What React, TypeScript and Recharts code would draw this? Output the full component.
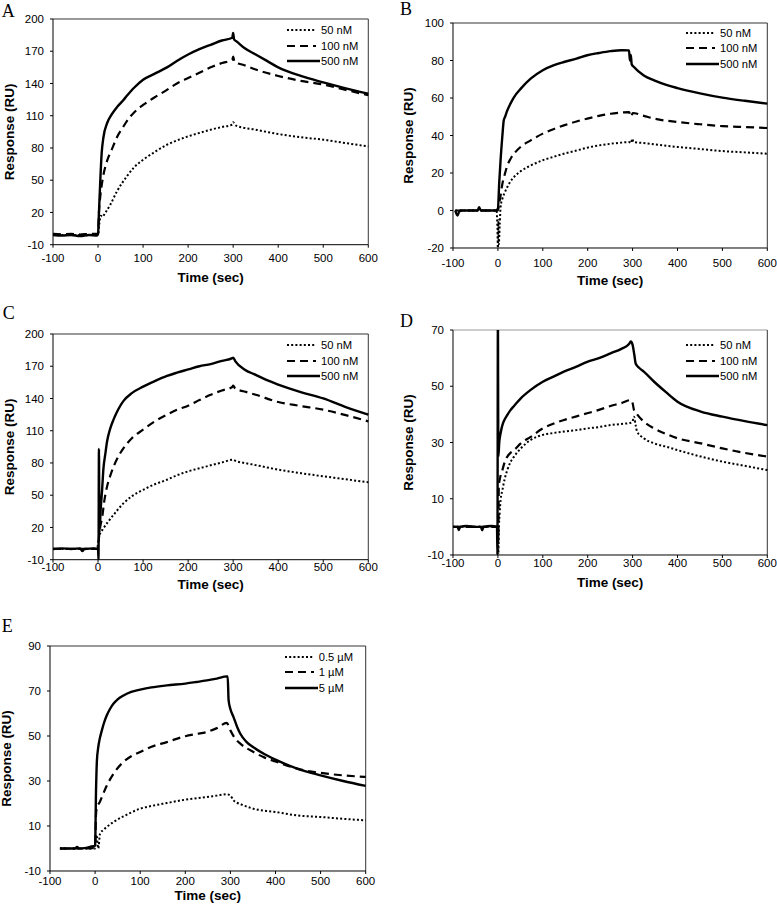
import React from "react";
import { LineChart, Line, XAxis, YAxis, ReferenceLine } from "recharts";

// ---- Panel A (nM) ----
const aT500 = [-100, -80, -60, -40, -20, -2, 0, 2, 5, 8, 12, 20, 30, 42, 55, 65, 80, 100, 125, 153, 175, 200, 225, 250, 275, 298, 300, 302, 308, 325, 350, 375, 400, 450, 500, 550, 600];
const aR500 = [-1, -1.5, -1, -2, -1, -1.5, 0, 20, 50, 75, 90, 103, 111, 118, 124, 129, 136, 143.5, 149, 155, 161, 167, 172, 176, 180, 182.5, 187, 181, 179, 173, 167, 161, 155, 147, 141, 135.5, 130.5];
const aT100 = [-100, -80, -60, -40, -20, -2, 0, 2, 5, 8, 12, 20, 30, 42, 55, 64, 80, 100, 125, 153, 175, 200, 225, 250, 275, 298, 300, 303, 325, 350, 400, 450, 500, 550, 600];
const aR100 = [0, -0.5, 0, -0.5, 0, 0, 1, 20, 35, 45, 55, 68, 78, 90, 99, 105, 113, 120, 127, 134, 140, 145, 150, 155, 159, 162, 165, 160, 157, 153, 147, 142.5, 139, 134, 129];
const aT50 = [-100, -60, -20, 0, 3, 6, 10, 15, 27, 42, 64, 80, 100, 125, 153, 175, 200, 225, 250, 275, 298, 300, 305, 350, 400, 450, 500, 550, 600];
const aR50 = [-1, -1, -1, 0, 10, 17, 16, 19, 27, 39.6, 53.6, 62, 69, 76, 83, 87, 90.8, 94, 97, 99.5, 101.7, 104, 101, 97, 93, 90, 87.7, 84.5, 81.5];

// ---- Panel B ----
const bT500 = [-95, -90, -86, -80, -60, -45, -42, -38, -20, -5, 0, 3, 6, 10, 13, 16, 21, 28, 36, 51, 73, 100, 125, 147, 175, 199, 225, 251, 275, 292, 294, 296, 298, 303, 325, 348, 375, 400, 450, 500, 550, 600];
const bR500 = [0, -2.7, -0.5, 0, 0, 0, 1.8, 0, 0, 0, 1, 15, 27, 40, 48, 50, 53.4, 57, 60.5, 65, 70.3, 74.8, 77.5, 79.2, 81, 82.8, 84, 85, 85.5, 85.4, 80, 83, 78, 76.5, 72, 69.4, 67, 65.3, 62.5, 60.2, 58.5, 57];
const bT100 = [-95, -60, -20, -5, 0, 3, 6, 10, 15, 21, 28, 36, 51, 73, 100, 125, 147, 175, 199, 225, 251, 275, 292, 297, 300, 325, 348, 400, 450, 500, 550, 600];
const bR100 = [0, 0, 0, 0, 0, 4, 8, 14.3, 19, 24, 27.5, 30.3, 34, 37.4, 41, 43.5, 45.4, 47.5, 49, 50.5, 51.6, 52.2, 52.5, 50, 52, 50.5, 49, 47.2, 46, 45, 44.5, 44];
const bT50 = [-95, -60, -20, -3, -1, 0, 1, 2, 4, 6, 10, 15, 21, 28, 36, 51, 73, 100, 125, 147, 175, 199, 225, 251, 275, 292, 297, 299, 302, 325, 348, 400, 450, 500, 550, 600];
const bR50 = [0, 0, 0, 0, -10, -20, -5, -18, -8, 1.9, 6.3, 9.5, 12.5, 15.5, 17.9, 21, 24, 26.8, 28.7, 30.3, 32, 33.5, 34.7, 35.6, 36.2, 36.5, 36, 38.3, 36.5, 36, 35.3, 33.9, 32.8, 31.7, 31, 30.3];

// ---- Panel C ----
const cT500 = [-100, -80, -60, -40, -35, -30, -10, -2, 0, 1, 2, 3, 6, 9, 12, 16, 20, 27, 35, 45, 57, 75, 100, 125, 153, 175, 200, 225, 250, 275, 298, 300, 305, 325, 350, 375, 400, 450, 500, 550, 600];
const cR500 = [0, 0.5, 0, 0.5, -2, 0, 0.5, 0, 0, -10, 93, 15, 38, 55, 75, 88, 100, 112, 121, 130, 138, 145, 151, 156, 161, 164, 167, 170, 172, 175, 177.5, 178, 174.5, 167, 162, 157, 153, 146, 140, 132, 125];
const cT100 = [-100, -60, -20, -2, 0, 3, 5, 9, 14, 20, 27, 35, 45, 57, 75, 100, 125, 153, 175, 200, 225, 250, 275, 298, 300, 305, 325, 350, 400, 450, 500, 550, 600];
const cR100 = [0, 0, 0, 0, 2, 15, 21, 29, 45, 58, 68, 77, 86, 94, 103, 111, 118.5, 125, 129.5, 133.3, 138.5, 143.5, 147.5, 150.7, 152, 149, 146.5, 143.5, 136.7, 133, 129.6, 124.5, 118.7];
const cT50 = [-100, -60, -20, -2, 0, 3, 5, 10, 20, 35, 57, 75, 100, 125, 153, 175, 200, 225, 250, 275, 300, 305, 325, 350, 400, 450, 500, 550, 600];
const cR50 = [0, 0, 0, 0, 5, 12, 14.8, 18, 24, 32, 42.7, 49, 55, 60, 64.4, 68.5, 72.2, 75, 77.8, 80.5, 83, 82, 80, 78, 73.8, 70.5, 67.6, 64.8, 62];

// ---- Panel D ----
const dT500 = [-100, -90, -87, -84, -70, -50, -38, -35, -32, -15, -2, -1, 0, 1, 3, 6, 10, 15, 21, 28, 36, 51, 73, 100, 125, 147, 175, 199, 225, 251, 275, 292, 296, 300, 304, 307, 315, 325, 348, 375, 400, 452, 500, 550, 600];
const dR500 = [0, 0, -1.1, 0, 0.3, 0, 0, -1.2, 0, 0.3, 0, -10, 75, 25, 30, 33.3, 36.2, 38.2, 39.8, 41.5, 43, 45.7, 48.7, 51.6, 53.5, 55.2, 57, 58.7, 60, 61.7, 63.3, 65, 65.9, 64.7, 61, 58, 56.5, 55.2, 51.6, 47.8, 44.5, 41, 39.2, 37.6, 36.2];
const dT100 = [-100, -50, -10, 0, 1, 2, 5, 10, 15, 21, 28, 36, 51, 73, 100, 125, 147, 175, 199, 225, 251, 275, 296, 300, 303, 310, 325, 348, 375, 400, 452, 500, 550, 600];
const dR100 = [0, 0, 0, 0, -5, 14.3, 17.5, 20.2, 23, 25, 26.3, 27.3, 29.7, 32, 35, 36.8, 38, 39.3, 40.4, 41.6, 43, 44, 45.1, 44, 41.6, 40, 37.4, 35, 33, 31.5, 29.7, 27.9, 26.3, 25];
const dT50 = [-100, -50, -10, 0, 1, 2, 4, 6, 10, 15, 21, 28, 36, 51, 73, 100, 125, 147, 175, 199, 225, 251, 275, 296, 300, 303, 307, 310, 325, 348, 375, 400, 452, 500, 550, 600];
const dR50 = [0, 0, 0, 0, -10, -2, 5, 9.5, 13, 17, 20.2, 23, 25, 27.9, 30.9, 32.7, 33.4, 33.9, 34.4, 35, 35.5, 36.2, 36.6, 37, 37.5, 39.2, 36, 33.9, 31.5, 29.7, 28.5, 27.3, 25, 23.2, 21.7, 20.2];

// ---- Panel E (µM) ----
const eT5 = [-78, -60, -45, -40, -35, -20, -4, 0, 2, 4, 7, 10, 15, 20, 26, 33, 41, 50, 63, 80, 100, 125, 159, 200, 225, 248, 270, 292, 294, 296, 300, 307, 315, 322, 335, 351, 375, 400, 448, 500, 550, 600];
const eR5 = [0, 0, 0, 0.7, 0, 0.3, 1, 1, 25, 39, 45, 48.5, 52.5, 56, 59.2, 62, 64.4, 66.3, 68, 69.6, 70.6, 71.6, 72.5, 73.3, 74, 74.7, 75.5, 76.5, 76.5, 66, 62, 58.4, 54, 51, 47.5, 45, 42, 39.5, 35.5, 32.5, 30, 27.8];
const eT1 = [-78, -40, -10, 0, 2, 4, 10, 15, 26, 41, 63, 80, 100, 125, 159, 200, 225, 248, 270, 292, 300, 310, 322, 351, 375, 400, 448, 500, 550, 600];
const eR1 = [0, 0, 0, 1, 15, 18.4, 20.5, 22.9, 28, 33.3, 38.5, 41, 42.9, 45.2, 47.3, 49.9, 50.9, 51.8, 53.5, 55.8, 52.5, 49, 46.6, 42.9, 40.5, 38.7, 35.5, 33.6, 32.5, 31.8];
const eT05 = [-78, -40, -10, 0, 2, 4, 7, 11, 18, 26, 41, 63, 80, 100, 125, 159, 200, 225, 248, 270, 292, 300, 307, 325, 351, 375, 400, 448, 500, 550, 600];
const eR05 = [0, 0, 0, 0, 6, 5.1, 0, 6.6, 8.2, 9.6, 11.8, 14.3, 16, 17.7, 18.9, 20.2, 21.7, 22.3, 22.9, 23.5, 24.1, 23.5, 21.4, 19.5, 17.7, 16.8, 16.2, 14.7, 14, 13.2, 12.5];

const timeTicks = [-100, 0, 100, 200, 300, 400, 500, 600];
const nMLabels = ["50 nM", "100 nM", "500 nM"];
const uMLabels = ["0.5 µM", "1 µM", "5 µM"];

const FONT = "'Liberation Sans', Arial, sans-serif";
const Y_AXIS_W = 52;
const X_AXIS_H = 42;
const M_TOP = 8;
const M_RIGHT = 10;

const STYLES = [
  { dash: "2 2.2", width: 2 }, // dotted, lowest conc
  { dash: "8 5", width: 2.2 }, // dashed
  { dash: undefined, width: 2.4 }, // solid
];

const zip = (t: number[], r: number[]) => t.map((x, i) => ({ t: x, v: r[i] }));

type Panel = {
  letter: string;
  left: number;
  top: number;
  w: number;
  h: number;
  yDomain: [number, number];
  yTicks: number[];
  series: { t: number; v: number }[][];
  labels: string[];
  xTickGap: number;
  xTitleGap: number;
  yTitleGap: number;
  legendTop: number;
  letterPos: [number, number];
  topStroke: string;
};

const panels: Panel[] = [
  {
    letter: "A", left: 52.7, top: 19.3, w: 315.3, h: 225.7,
    yDomain: [-10, 200], yTicks: [-10, 20, 50, 80, 110, 140, 170, 200],
    series: [zip(aT50, aR50), zip(aT100, aR100), zip(aT500, aR500)],
    labels: nMLabels, xTickGap: 6, xTitleGap: 33, yTitleGap: 43.5, legendTop: 10.7,
    letterPos: [1.7, 1.7], topStroke: "#333",
  },
  {
    letter: "B", left: 452.7, top: 22.7, w: 314.3, h: 225,
    yDomain: [-20, 100], yTicks: [-20, 0, 20, 40, 60, 80, 100],
    series: [zip(bT50, bR50), zip(bT100, bR100), zip(bT500, bR500)],
    labels: nMLabels, xTickGap: 8, xTitleGap: 33, yTitleGap: 45, legendTop: 10,
    letterPos: [400, 0], topStroke: "#333",
  },
  {
    letter: "C", left: 52.7, top: 334.3, w: 315.3, h: 225.7,
    yDomain: [-10, 200], yTicks: [-10, 20, 50, 80, 110, 140, 170, 200],
    series: [zip(cT50, cR50), zip(cT100, cR100), zip(cT500, cR500)],
    labels: nMLabels, xTickGap: 0, xTitleGap: 25, yTitleGap: 43.5, legendTop: 10.7,
    letterPos: [2.7, 304.3], topStroke: "#333",
  },
  {
    letter: "D", left: 452.7, top: 330, w: 314.3, h: 225,
    yDomain: [-10, 70], yTicks: [-10, 10, 30, 50, 70],
    series: [zip(dT50, dR50), zip(dT100, dR100), zip(dT500, dR500)],
    labels: nMLabels, xTickGap: 1, xTitleGap: 28, yTitleGap: 45, legendTop: 15,
    letterPos: [400, 312.3], topStroke: "#999",
  },
  {
    letter: "E", left: 50, top: 645.7, w: 315.7, h: 225,
    yDomain: [-10, 90], yTicks: [-10, 10, 30, 50, 70, 90],
    series: [zip(eT05, eR05), zip(eT1, eR1), zip(eT5, eR5)],
    labels: uMLabels, xTickGap: 3, xTitleGap: 25, yTitleGap: 44.2, legendTop: 11,
    letterPos: [1.7, 616.7], topStroke: "#333",
  },
];

function KineticsLegend({ labels, right, top }: { labels: string[]; right: number; top: number }) {
  const textLeft = right - 47;
  return (
    <>
      {labels.map((lab, i) => {
        const cy = top + i * 15.7;
        const st = STYLES[i];
        const lineEnd = st.dash ? 29 : 33;
        return (
          <div key={lab} style={{ position: "absolute", left: textLeft - 34, top: cy - 7, height: 14, display: "flex", alignItems: "center" }}>
            <svg width={34} height={14} style={{ display: "block" }}>
              <line x1={0} y1={7} x2={lineEnd} y2={7} stroke="#000" strokeWidth={st.width} strokeDasharray={st.dash} />
            </svg>
            <span style={{ fontSize: 11.2, lineHeight: "14px", whiteSpace: "nowrap" }}>{lab}</span>
          </div>
        );
      })}
    </>
  );
}

function KineticsPanel({ p }: { p: Panel }) {
  const chartLeft = p.left - Y_AXIS_W;
  const chartTop = p.top - M_TOP;
  const width = Y_AXIS_W + p.w + M_RIGHT;
  const height = M_TOP + p.h + X_AXIS_H;
  return (
    <>
      <div style={{ position: "absolute", left: p.letterPos[0], top: p.letterPos[1], fontFamily: "'Liberation Serif', 'Times New Roman', serif", fontSize: 18, lineHeight: "18px" }}>
        {p.letter}
      </div>
      <div style={{ position: "absolute", left: chartLeft, top: chartTop }}>
        <LineChart width={width} height={height} margin={{ top: M_TOP, right: M_RIGHT, bottom: 0, left: 0 }}>
          <XAxis
            type="number"
            dataKey="t"
            domain={[-100, 600]}
            ticks={timeTicks}
            interval={0}
            height={X_AXIS_H}
            tickSize={3}
            tickMargin={p.xTickGap}
            stroke="#000"
            tick={{ fontSize: 11.5, fill: "#000" }}
            label={{ value: "Time (sec)", position: "insideBottom", offset: X_AXIS_H - p.xTitleGap - 4, style: { fontSize: 13.5, fontWeight: "bold", fill: "#000" } }}
          />
          <YAxis
            type="number"
            domain={p.yDomain}
            ticks={p.yTicks}
            interval={0}
            allowDataOverflow
            width={Y_AXIS_W}
            tickSize={3}
            tickMargin={6}
            stroke="#000"
            tick={{ fontSize: 11.5, fill: "#000" }}
            label={{ value: "Response (RU)", angle: -90, position: "insideLeft", offset: Y_AXIS_W - p.yTitleGap, style: { textAnchor: "middle", fontSize: 13.5, fontWeight: "bold", fill: "#000" } }}
          />
          <ReferenceLine y={p.yDomain[1]} stroke={p.topStroke} />
          <ReferenceLine x={600} stroke="#333" />
          {p.series.map((d, i) => (
            <Line
              key={p.labels[i]}
              data={d}
              dataKey="v"
              type="monotone"
              stroke="#000"
              strokeWidth={STYLES[i].width}
              strokeDasharray={STYLES[i].dash}
              dot={false}
              activeDot={false}
              isAnimationActive={false}
            />
          ))}
        </LineChart>
        <KineticsLegend labels={p.labels} right={Y_AXIS_W + p.w} top={M_TOP + p.legendTop} />
      </div>
    </>
  );
}

export default function App() {
  return (
    <div style={{ position: "absolute", left: 0, top: 0, width: 777, height: 912, background: "#fff", fontFamily: FONT, color: "#000", overflow: "hidden" }}>
      {panels.map((p) => (
        <KineticsPanel key={p.letter} p={p} />
      ))}
    </div>
  );
}
